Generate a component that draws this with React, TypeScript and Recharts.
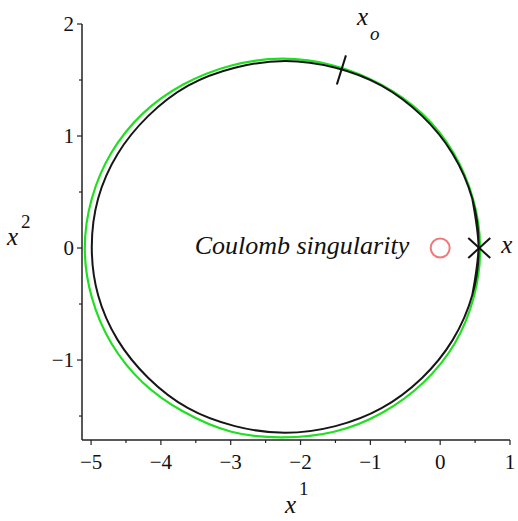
import { ScatterChart, Scatter, XAxis, YAxis } from 'recharts';

// orbit traces (closed loops, first/last points repeated)
const exactOrbit: [number, number][] = [
  [0.46, -0.42], [0.55, 0.01], [0.46, 0.44], [0.18, 0.84], [-0.26, 1.18], [-0.84, 1.45],
  [-1.5, 1.61], [-2.22, 1.67], [-2.94, 1.61], [-3.61, 1.45], [-4.18, 1.18], [-4.62, 0.84],
  [-4.9, 0.44], [-4.99, 0.01], [-4.9, -0.42], [-4.62, -0.82], [-4.18, -1.16], [-3.61, -1.43],
  [-2.94, -1.59], [-2.22, -1.65], [-1.5, -1.59], [-0.84, -1.43], [-0.26, -1.16], [0.18, -0.82],
  [0.46, -0.42], [0.55, 0.01], [0.46, 0.44],
];

const approxOrbit: [number, number][] = [
  [0.48, -0.44], [0.57, 0], [0.47, 0.44], [0.19, 0.85], [-0.26, 1.2], [-0.85, 1.46],
  [-1.53, 1.63], [-2.26, 1.69], [-2.99, 1.63], [-3.68, 1.46], [-4.26, 1.2], [-4.71, 0.85],
  [-4.99, 0.44], [-5.09, 0], [-4.99, -0.44], [-4.71, -0.85], [-4.26, -1.2], [-3.68, -1.46],
  [-2.99, -1.64], [-2.26, -1.69], [-1.52, -1.64], [-0.83, -1.47], [-0.24, -1.2], [0.21, -0.85],
  [0.48, -0.44], [0.57, 0], [0.47, 0.44],
];

const startTick: [number, number][] = [[-1.48, 1.46], [-1.35, 1.72]];
const startPoint: [number, number] = [-1.42, 1.62];
const singularity: [number, number] = [0, 0];
const endPoint: [number, number] = [0.56, 0];

const xTicks = [-5, -4.5, -4, -3.5, -3, -2.5, -2, -1.5, -1, -0.5, 0, 0.5, 1];
const yTicks = [-1.5, -1, -0.5, 0, 0.5, 1, 1.5, 2];

const toPts = (arr: [number, number][]) => arr.map(([x, y]) => ({ x, y }));

const FONT = 'Liberation Serif, Tinos, DejaVu Serif, serif';
const AXIS = '#222';

const fmt = (v: number) => (v < 0 ? '\u2212' + Math.abs(v) : String(v));

function XTick({ x, y, payload }: any) {
  const v = payload.value;
  const major = Number.isInteger(v);
  return (
    <g>
      <line x1={x} x2={x} y1={y} y2={y + (major ? 5 : 3)} stroke={AXIS} strokeWidth={1.2} />
      {major && (
        <text x={x} y={y + 29} textAnchor="middle" fontSize={21} style={{ fontFamily: FONT }} fill="#111">
          {fmt(v)}
        </text>
      )}
    </g>
  );
}

function YTick({ x, y, payload }: any) {
  const v = payload.value;
  const major = Number.isInteger(v);
  return (
    <g>
      <line x1={x - (major ? 5 : 3)} x2={x} y1={y} y2={y} stroke={AXIS} strokeWidth={1.2} />
      {major && (
        <text x={x - 8} y={y + 7} textAnchor="end" fontSize={21} style={{ fontFamily: FONT }} fill="#111">
          {fmt(v)}
        </text>
      )}
    </g>
  );
}

const NoShape = () => <g />;

function RingShape({ cx, cy }: any) {
  return <circle cx={cx} cy={cy} r={9.5} fill="none" stroke="#f07a7a" strokeWidth={2} />;
}

function CrossShape({ cx, cy }: any) {
  return (
    <g>
      <line x1={cx - 11} y1={cy - 10} x2={cx + 11} y2={cy + 10} stroke="#111" strokeWidth={2} />
      <line x1={cx - 11} y1={cy + 10} x2={cx + 11} y2={cy - 10} stroke="#111" strokeWidth={2} />
      <text x={cx + 22} y={cy + 5} fontSize={25} fontStyle="italic" style={{ fontFamily: FONT }} fill="#111">
        x
      </text>
    </g>
  );
}

function SingularityLabel({ cx, cy }: any) {
  return (
    <text x={cx - 31} y={cy + 6} textAnchor="end" fontSize={26} fontStyle="italic" style={{ fontFamily: FONT }} fill="#111">
      Coulomb singularity
    </text>
  );
}

function StartLabel({ cx, cy }: any) {
  return (
    <g style={{ fontFamily: FONT }} fontStyle="italic" fill="#111">
      <text x={cx + 16} y={cy - 42} fontSize={25}>x</text>
      <text x={cx + 29} y={cy - 27} fontSize={19}>o</text>
    </g>
  );
}

function XTitle({ viewBox }: any) {
  const cx = viewBox ? viewBox.x + viewBox.width / 2 : 296;
  return (
    <g style={{ fontFamily: FONT }} fill="#111">
      <text x={cx - 11} y={513} fontSize={25} fontStyle="italic">x</text>
      <text x={cx + 3} y={495} fontSize={19}>1</text>
    </g>
  );
}

function YTitle({ viewBox }: any) {
  const cy = viewBox ? viewBox.y + viewBox.height / 2 : 232;
  return (
    <g style={{ fontFamily: FONT }} fill="#111">
      <text x={7} y={cy + 13} fontSize={25} fontStyle="italic">x</text>
      <text x={21} y={cy - 4} fontSize={19}>2</text>
    </g>
  );
}

export default function App() {
  return (
    <div style={{ position: 'absolute', left: 0, top: 0, background: '#fff', fontFamily: FONT }}>
      <ScatterChart width={518} height={521} margin={{ top: 24, right: 8, bottom: 80, left: 81 }}>
        <XAxis
          type="number"
          dataKey="x"
          domain={[-5.13, 1]}
          ticks={xTicks}
          interval={0}
          height={1}
          tickSize={0}
          tickMargin={0}
          tickLine={false}
          axisLine={{ stroke: AXIS, strokeWidth: 1.5 }}
          tick={<XTick />}
          label={{ content: <XTitle /> }}
        />
        <YAxis
          type="number"
          dataKey="y"
          domain={[-1.714, 2]}
          ticks={yTicks}
          interval={0}
          width={1}
          tickSize={0}
          tickMargin={0}
          tickLine={false}
          axisLine={{ stroke: AXIS, strokeWidth: 1.5 }}
          tick={<YTick />}
          label={{ content: <YTitle /> }}
        />
        <Scatter
          data={toPts(approxOrbit)}
          line={{ stroke: '#1fe01f', strokeWidth: 2.2 }}
          lineJointType="natural"
          shape={<NoShape />}
          isAnimationActive={false}
        />
        <Scatter
          data={toPts(exactOrbit)}
          line={{ stroke: '#161616', strokeWidth: 2 }}
          lineJointType="natural"
          shape={<NoShape />}
          isAnimationActive={false}
        />
        <Scatter
          data={toPts(startTick)}
          line={{ stroke: '#111', strokeWidth: 2 }}
          shape={<NoShape />}
          isAnimationActive={false}
        />
        <Scatter data={toPts([startPoint])} shape={<StartLabel />} isAnimationActive={false} />
        <Scatter data={toPts([singularity])} shape={<RingShape />} isAnimationActive={false} />
        <Scatter data={toPts([singularity])} shape={<SingularityLabel />} isAnimationActive={false} />
        <Scatter data={toPts([endPoint])} shape={<CrossShape />} isAnimationActive={false} />
      </ScatterChart>
    </div>
  );
}
